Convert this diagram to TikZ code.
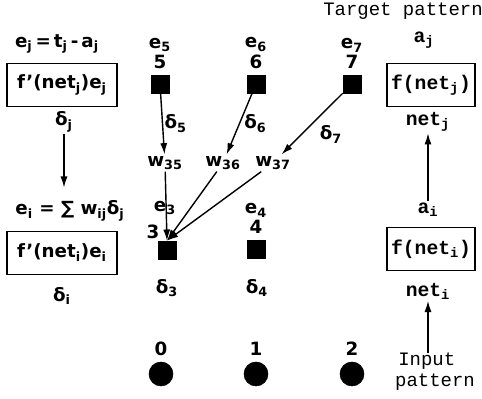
\documentclass[tikz,border=0pt]{standalone}
\usepackage{fontspec}
\setmainfont{DejaVu Sans}
\newfontfamily\typefont{Liberation Mono}
\usetikzlibrary{positioning, arrows.meta}

\begin{document}
\begin{tikzpicture}[
  x=0.025cm, y=-0.025cm,
  lbl/.style={font=\fontsize{13}{15}\selectfont\bfseries, inner sep=1pt},
  tlbl/.style={font=\fontsize{14}{16}\selectfont\typefont\bfseries, inner sep=1pt},
  plain/.style={font=\fontsize{13.5}{15}\selectfont\typefont, inner sep=0pt, align=left},
  unit/.style={draw, fill=black, minimum size=0.45cm, inner sep=0pt},
  inunit/.style={draw, fill=black, circle, minimum size=0.6cm, inner sep=0pt},
  calc/.style={draw, line width=1.1pt, minimum height=1.07cm, inner sep=2pt},
  >={Latex[length=8pt,width=5pt]},
  link/.style={line width=1pt}
]
\useasboundingbox (0,0) rectangle (482,399);

% output units
\foreach \k/\x in {5/160,6/256,7/352}{
  \node[unit] (n\k) at (\x,84) {};
  \node[lbl, above=3pt of n\k] (i\k) {\k};
  \node[lbl, above=0pt of i\k] (e\k) {e\textsubscript{\k}};
}

% hidden units
\node[unit] (n3) at (167,250) {};
\node[unit] (n4) at (256,249) {};
\node[lbl] (i3) at (153,232) {3};
\node[lbl] (e3) at (165,208) {e\textsubscript{3}};
\node[lbl, above=3pt of n4] (i4) {4};
\node[lbl, above=0pt of i4] (e4) {e\textsubscript{4}};
\node[lbl] (d3) at (167,288) {δ\textsubscript{3}};
\node[lbl] (d4) at (257,288) {δ\textsubscript{4}};

% input units
\foreach \k/\x in {0/161,1/256,2/352}{
  \node[inunit] (u\k) at (\x,374) {};
  \node[lbl, above=3pt of u\k] (j\k) {\k};
}

% weights
\node[lbl] (w35) at (165,163) {w\textsubscript{35}};
\node[lbl] (w36) at (223,163) {w\textsubscript{36}};
\node[lbl] (w37) at (273,163) {w\textsubscript{37}};

\draw[link, ->] (n5) -- (w35) node[lbl, midway, right] {δ\textsubscript{5}};
\draw[link, ->] (n6) -- (w36) node[lbl, midway, right=2pt] {δ\textsubscript{6}};
\draw[link, ->] (n7) -- (w37) node[lbl, midway, below right=0pt and 4pt] {δ\textsubscript{7}};
\draw[link, ->] (w35) -- (n3.north);
\draw[link, ->] (w36) -- (n3.north);
\draw[link, ->] (w37) -- (n3.north);

% left column
\node[lbl] (ej) at (57,44) {e\textsubscript{j}\,=\,t\textsubscript{j}\,-\,a\textsubscript{j}};
\node[calc, lbl, minimum width=2.75cm] (fdj) at (62,85) {f'(net\textsubscript{j})e\textsubscript{j}};
\node[lbl] (dj) at (64,122) {δ\textsubscript{j}};
\node[lbl] (ei) at (70,211) {e\textsubscript{i} = ∑ w\textsubscript{ij}δ\textsubscript{j}};
\node[calc, lbl, minimum width=2.75cm] (fdi) at (62,253) {f'(net\textsubscript{i})e\textsubscript{i}};
\node[lbl] (di) at (62,296) {δ\textsubscript{i}};
\draw[link, ->, shorten >=8pt] (dj.south) -- (dj.south |- ei.north);

% right column
\node[plain] (tp) at (403,11) {Target pattern};
\node[tlbl] (aj) at (424,40) {a\textsubscript{j}};
\node[calc, tlbl, minimum width=2.2cm] (fj) at (431,85) {f(net\textsubscript{j})};
\node[tlbl] (netj) at (428,122) {net\textsubscript{j}};
\node[tlbl] (ai) at (428,210) {a\textsubscript{i}};
\node[calc, tlbl, minimum width=2.2cm] (fi) at (431,249) {f(net\textsubscript{i})};
\node[tlbl] (neti) at (428,291) {net\textsubscript{i}};
\node[plain] (inp) at (435,372) {\,Input\\pattern};
\draw[link, ->] (ai) -- (netj);
\draw[link, ->] (inp.north -| neti) -- (neti);

\end{tikzpicture}
\end{document}
